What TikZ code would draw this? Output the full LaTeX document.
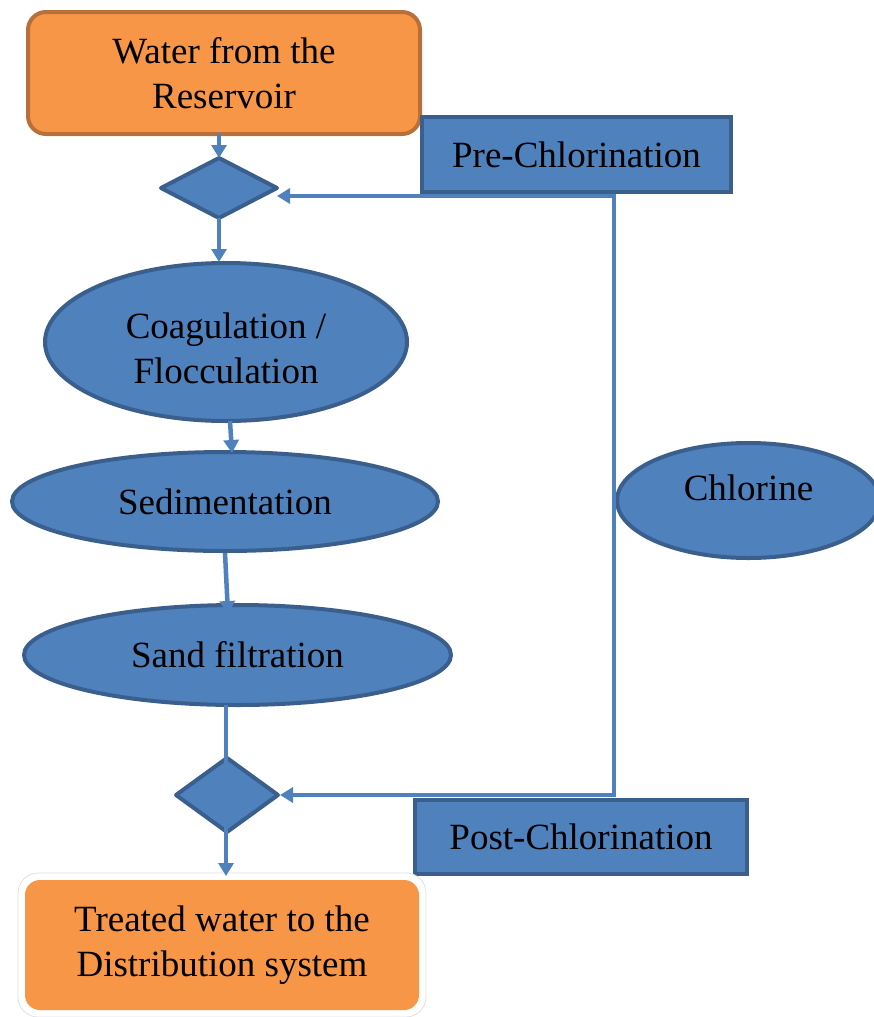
\documentclass[tikz,border=0pt]{standalone}
\usepackage{fontspec}
\setmainfont{Liberation Serif}
\usetikzlibrary{shapes.geometric,arrows.meta}
\definecolor{bfill}{HTML}{4F81BD}
\definecolor{bdraw}{HTML}{3A5F8C}
\definecolor{ofill}{HTML}{F79646}
\definecolor{odraw}{HTML}{B8703A}
\definecolor{lcol}{HTML}{4F81BD}
\tikzset{
  txt/.style={font=\fontsize{37}{45}\selectfont, align=center, text=black},
  obox/.style={txt, draw=odraw, fill=ofill, line width=4pt, rounded corners=18pt, inner sep=0pt},
  bbox/.style={txt, draw=bdraw, fill=bfill, line width=3.5pt, inner sep=0pt},
  bell/.style={txt, ellipse, draw=bdraw, fill=bfill, line width=4pt, inner sep=0pt},
  dia/.style={draw=bdraw, fill=bfill, line width=4pt, line join=round},
  conn/.style={draw=lcol, line width=4.5pt, -{Triangle[width=15pt,length=13pt]}},
  plain/.style={draw=lcol, line width=4.5pt},
}
\begin{document}
\begin{tikzpicture}[x=1pt,y=-1pt]
\useasboundingbox (0,0) rectangle (874,1017);
% boxes
\node[obox, minimum width=392pt, minimum height=122pt] (src) at (224,73) {Water from the\\Reservoir};
\node[bbox, minimum width=309pt, minimum height=75pt] (pre) at (576.5,154.5) {Pre-Chlorination};
% diamond 1
\path[dia] (161,188) -- (219,158) -- (277,188) -- (219,218) -- cycle;
\coordinate (d1n) at (219,158);
\coordinate (d1s) at (219,218);
\coordinate (d1e) at (277,196);
% ellipses
\node[bell, minimum width=362pt, minimum height=158pt] (coag) at (226,342) {};
\node[txt] (coagt) at (226,348) {Coagulation /\\Flocculation};
\node[bell, minimum width=426pt, minimum height=99pt] (sed) at (225,501.5) {Sedimentation};
\node[bell, minimum width=427pt, minimum height=100pt] (sand) at (237.5,655) {Sand filtration};
\node[bell, minimum width=263pt, minimum height=115pt] (chl) at (748.5,500.5) {};
\node[txt] (chlt) at (748.5,488) {Chlorine};
% diamond 2
\path[dia] (176,795) -- (227,758) -- (278,795) -- (227,832) -- cycle;
\coordinate (d2e) at (280,795);
% post box
\node[bbox, minimum width=332pt, minimum height=74pt] (post) at (581,837) {Post-Chlorination};
% bottom box
\node[txt, draw=white!88!black, line width=0.8pt, fill=white, rounded corners=20pt, minimum width=408pt, minimum height=144pt, inner sep=0pt] (dstb) at (222,945) {};
\node[txt, fill=ofill, rounded corners=15pt, minimum width=394pt, minimum height=130pt, inner sep=0pt] (dst) at (222,945) {Treated water to the\\Distribution system};
% connectors
\coordinate (s1) at (219,134);
\draw[conn] (s1) -- (d1n);
\coordinate (c1) at (219,262);
\draw[conn] (d1s) -- (c1);
\coordinate (a2) at (230,421);
\coordinate (b2) at (232,453);
\draw[conn] (a2) -- (b2);
\coordinate (a3) at (225,553);
\coordinate (b3) at (228,614);
\draw[conn] (a3) -- (b3);
\coordinate (a4) at (226,705);
\coordinate (b4) at (226,876);
\draw[conn] (a4) -- (b4);
\coordinate (tr) at (614,196);
\coordinate (br) at (614,795);
\draw[plain, line cap=rect] (tr) -- (br);
\draw[conn] (tr) -- (d1e);
\draw[conn] (br) -- (d2e);
\end{tikzpicture}
\end{document}
